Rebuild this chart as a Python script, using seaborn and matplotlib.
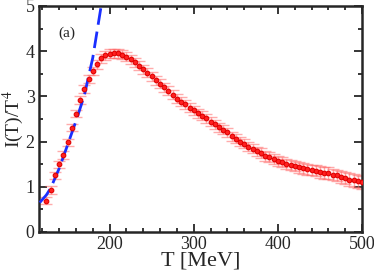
import numpy as np
import pandas as pd
import matplotlib
matplotlib.use("Agg")
import matplotlib.pyplot as plt
import seaborn as sns
from matplotlib.ticker import MultipleLocator

# lattice points, I(T)/T^4
temps = list(range(125, 505, 5))
trace = [0.69, 0.93, 1.25, 1.50, 1.70, 1.98, 2.31, 2.62, 2.92, 3.16,
         3.38, 3.56, 3.71, 3.84, 3.91, 3.94, 3.95, 3.95, 3.92, 3.88,
         3.82, 3.75, 3.68, 3.60, 3.52, 3.44, 3.36, 3.28, 3.20, 3.12,
         3.03, 2.95, 2.88, 2.82, 2.75, 2.69, 2.63, 2.57, 2.51, 2.44,
         2.38, 2.32, 2.26, 2.20, 2.12, 2.06, 2.00, 1.95, 1.89, 1.84,
         1.79, 1.74, 1.69, 1.65, 1.61, 1.57, 1.54, 1.51, 1.48, 1.46,
         1.43, 1.41, 1.39, 1.37, 1.35, 1.33, 1.31, 1.30, 1.27, 1.25,
         1.22, 1.19, 1.16, 1.14, 1.12, 1.10]
trace_err = [0.08, 0.08, 0.08, 0.08, 0.08, 0.08, 0.08, 0.08, 0.08, 0.09,
             0.09, 0.09, 0.10, 0.10, 0.10, 0.10, 0.10, 0.10, 0.10, 0.10,
             0.10, 0.10, 0.10, 0.10, 0.10, 0.10, 0.10, 0.10, 0.10, 0.10,
             0.10, 0.10, 0.10, 0.10, 0.10, 0.10, 0.10, 0.10, 0.10, 0.10,
             0.10, 0.10, 0.10, 0.10, 0.10, 0.10, 0.10, 0.10, 0.10, 0.10,
             0.10, 0.11, 0.11, 0.11, 0.11, 0.11, 0.11, 0.11, 0.12, 0.12,
             0.12, 0.12, 0.12, 0.12, 0.12, 0.13, 0.13, 0.13, 0.13, 0.13,
             0.13, 0.13, 0.14, 0.14, 0.14, 0.14]

# hadron resonance gas curve (blue dashed)
hrg_T = [117, 125, 130, 140, 150, 160, 170, 180, 190]
hrg_val = [0.65, 0.82, 0.97, 1.40, 1.92, 2.45, 3.02, 3.85, 5.00]

df = pd.DataFrame({"T": temps, "I": trace, "err": trace_err})
hrg = pd.DataFrame({"T": hrg_T, "I": hrg_val})

sns.set_style("ticks")
plt.rcParams['font.family'] = ['Liberation Serif', 'DejaVu Serif']
plt.rcParams['mathtext.fontset'] = 'stix'

fig = plt.figure(figsize=(3.74, 2.70), dpi=100)
ax = fig.add_axes([0.104, 0.141, 0.864, 0.837])

sns.lineplot(data=hrg, x="T", y="I", ax=ax, color="#1a2fff", lw=2.0,
             dashes=False, linestyle=(0, (6, 2.5)), zorder=3)

ax.errorbar(df["T"], df["I"], yerr=df["err"], fmt="none",
            ecolor=(1, 0.4, 0.4, 0.55), elinewidth=1.0, capsize=4,
            capthick=1.0, zorder=2)
sns.scatterplot(data=df, x="T", y="I", ax=ax, color="#ff2020",
                edgecolor="#e00000", s=11, linewidth=0.8, zorder=4)

ax.set_xlim(116, 500)
ax.set_ylim(0, 5)
ax.xaxis.set_major_locator(MultipleLocator(100))
ax.xaxis.set_minor_locator(MultipleLocator(20))
ax.yaxis.set_major_locator(MultipleLocator(1))
ax.yaxis.set_minor_locator(MultipleLocator(0.5))
ax.tick_params(which="both", direction="in", top=True, right=True,
               width=1.3, labelsize=13, pad=3)
ax.tick_params(which="major", length=5.5)
ax.tick_params(which="minor", length=3)
for s in ax.spines.values():
    s.set_linewidth(1.8)

ax.set_xlabel("T [MeV]", fontsize=16, labelpad=-1)
ax.set_ylabel(r"I(T)/T$^4$", fontsize=14)
ax.yaxis.set_label_coords(-0.040, 0.5)
ax.text(0.06, 0.865, "(a)", transform=ax.transAxes, fontsize=11)

fig.savefig("out.png", dpi=100)
